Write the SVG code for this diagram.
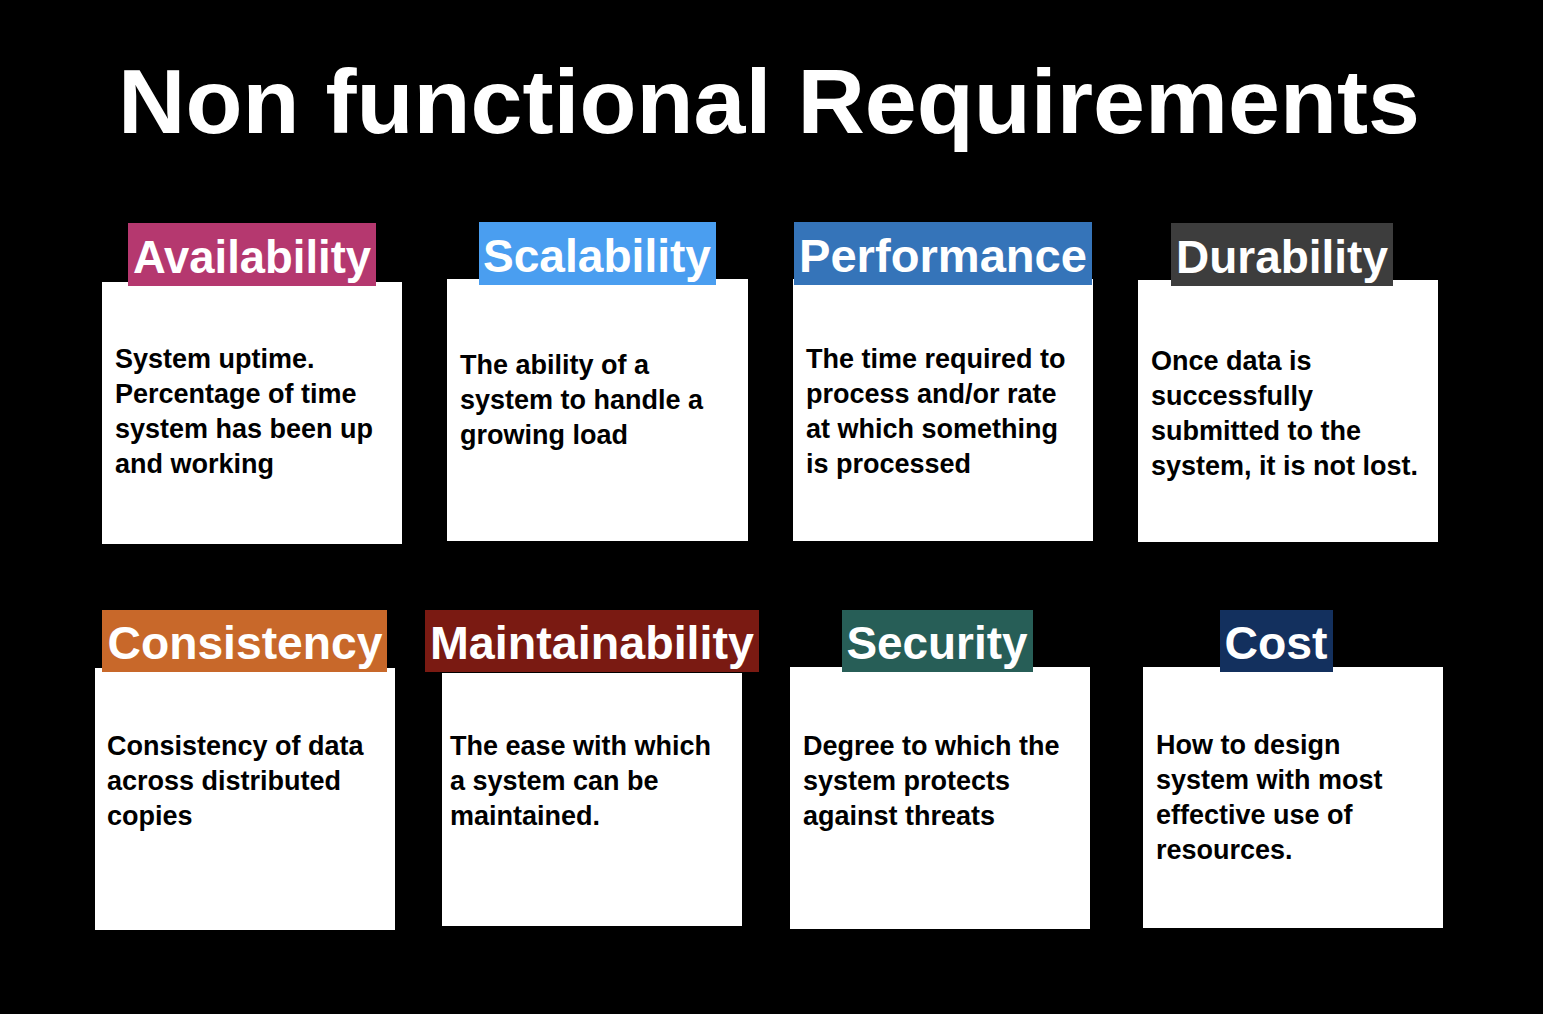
<svg xmlns="http://www.w3.org/2000/svg" width="1543" height="1014" viewBox="0 0 1543 1014">
<style>
.box{fill:#fff}
.lbl{font-family:"Liberation Sans",Arial,sans-serif;font-weight:bold;font-size:46px;fill:#fff;text-anchor:middle}
.body{font-family:"Liberation Sans",Arial,sans-serif;font-weight:bold;font-size:27px;fill:#000}
</style>
<rect width="1543" height="1014" fill="#000"/>
<text x="769" y="133" font-family="Liberation Sans,Arial,sans-serif" font-weight="bold" font-size="90" fill="#fff" text-anchor="middle" textLength="1302" lengthAdjust="spacingAndGlyphs">Non functional Requirements</text>
<g id="availability"><rect class="box" x="102" y="282" width="300" height="262"/><rect x="128" y="223" width="248" height="63" fill="#b5386f"/><text class="lbl" x="252" y="273" textLength="238" lengthAdjust="spacingAndGlyphs">Availability</text>
<text class="body" x="115" y="368">System uptime.<tspan x="115" dy="35">Percentage of time</tspan><tspan x="115" dy="35">system has been up</tspan><tspan x="115" dy="35">and working</tspan></text></g>
<g id="scalability"><rect class="box" x="447" y="279" width="301" height="262"/><rect x="479" y="222" width="237" height="63" fill="#4a9ef0"/><text class="lbl" x="597" y="272" textLength="228" lengthAdjust="spacingAndGlyphs">Scalability</text>
<text class="body" x="460" y="374">The ability of a<tspan x="460" dy="35">system to handle a</tspan><tspan x="460" dy="35">growing load</tspan></text></g>
<g id="performance"><rect class="box" x="793" y="279" width="300" height="262"/><rect x="794" y="222" width="298" height="63" fill="#3574b9"/><text class="lbl" x="943" y="272" textLength="288" lengthAdjust="spacingAndGlyphs">Performance</text>
<text class="body" x="806" y="368">The time required to<tspan x="806" dy="35">process and/or rate</tspan><tspan x="806" dy="35">at which something</tspan><tspan x="806" dy="35">is processed</tspan></text></g>
<g id="durability"><rect class="box" x="1138" y="280" width="300" height="262"/><rect x="1171" y="223" width="222" height="63" fill="#3d3d3d"/><text class="lbl" x="1282" y="273" textLength="212" lengthAdjust="spacingAndGlyphs">Durability</text>
<text class="body" x="1151" y="370">Once data is<tspan x="1151" dy="35">successfully</tspan><tspan x="1151" dy="35">submitted to the</tspan><tspan x="1151" dy="35">system, it is not lost.</tspan></text></g>
<g id="consistency"><rect class="box" x="95" y="668" width="300" height="262"/><rect x="102" y="610" width="285" height="62" fill="#c8682a"/><text class="lbl" x="245" y="659" textLength="275" lengthAdjust="spacingAndGlyphs">Consistency</text>
<text class="body" x="107" y="755">Consistency of data<tspan x="107" dy="35">across distributed</tspan><tspan x="107" dy="35">copies</tspan></text></g>
<g id="maintainability"><rect class="box" x="442" y="673" width="300" height="253"/><rect x="425" y="610" width="334" height="62" fill="#7a1a12"/><text class="lbl" x="592" y="659" textLength="324" lengthAdjust="spacingAndGlyphs">Maintainability</text>
<text class="body" x="450" y="755">The ease with which<tspan x="450" dy="35">a system can be</tspan><tspan x="450" dy="35">maintained.</tspan></text></g>
<g id="security"><rect class="box" x="790" y="667" width="300" height="262"/><rect x="842" y="610" width="191" height="62" fill="#275e57"/><text class="lbl" x="937" y="659" textLength="181" lengthAdjust="spacingAndGlyphs">Security</text>
<text class="body" x="803" y="755">Degree to which the<tspan x="803" dy="35">system protects</tspan><tspan x="803" dy="35">against threats</tspan></text></g>
<g id="cost"><rect class="box" x="1143" y="667" width="300" height="261"/><rect x="1220" y="610" width="113" height="62" fill="#13305e"/><text class="lbl" x="1276" y="659" textLength="103" lengthAdjust="spacingAndGlyphs">Cost</text>
<text class="body" x="1156" y="754">How to design<tspan x="1156" dy="35">system with most</tspan><tspan x="1156" dy="35">effective use of</tspan><tspan x="1156" dy="35">resources.</tspan></text></g>
<g id="connectors"/>
</svg>
